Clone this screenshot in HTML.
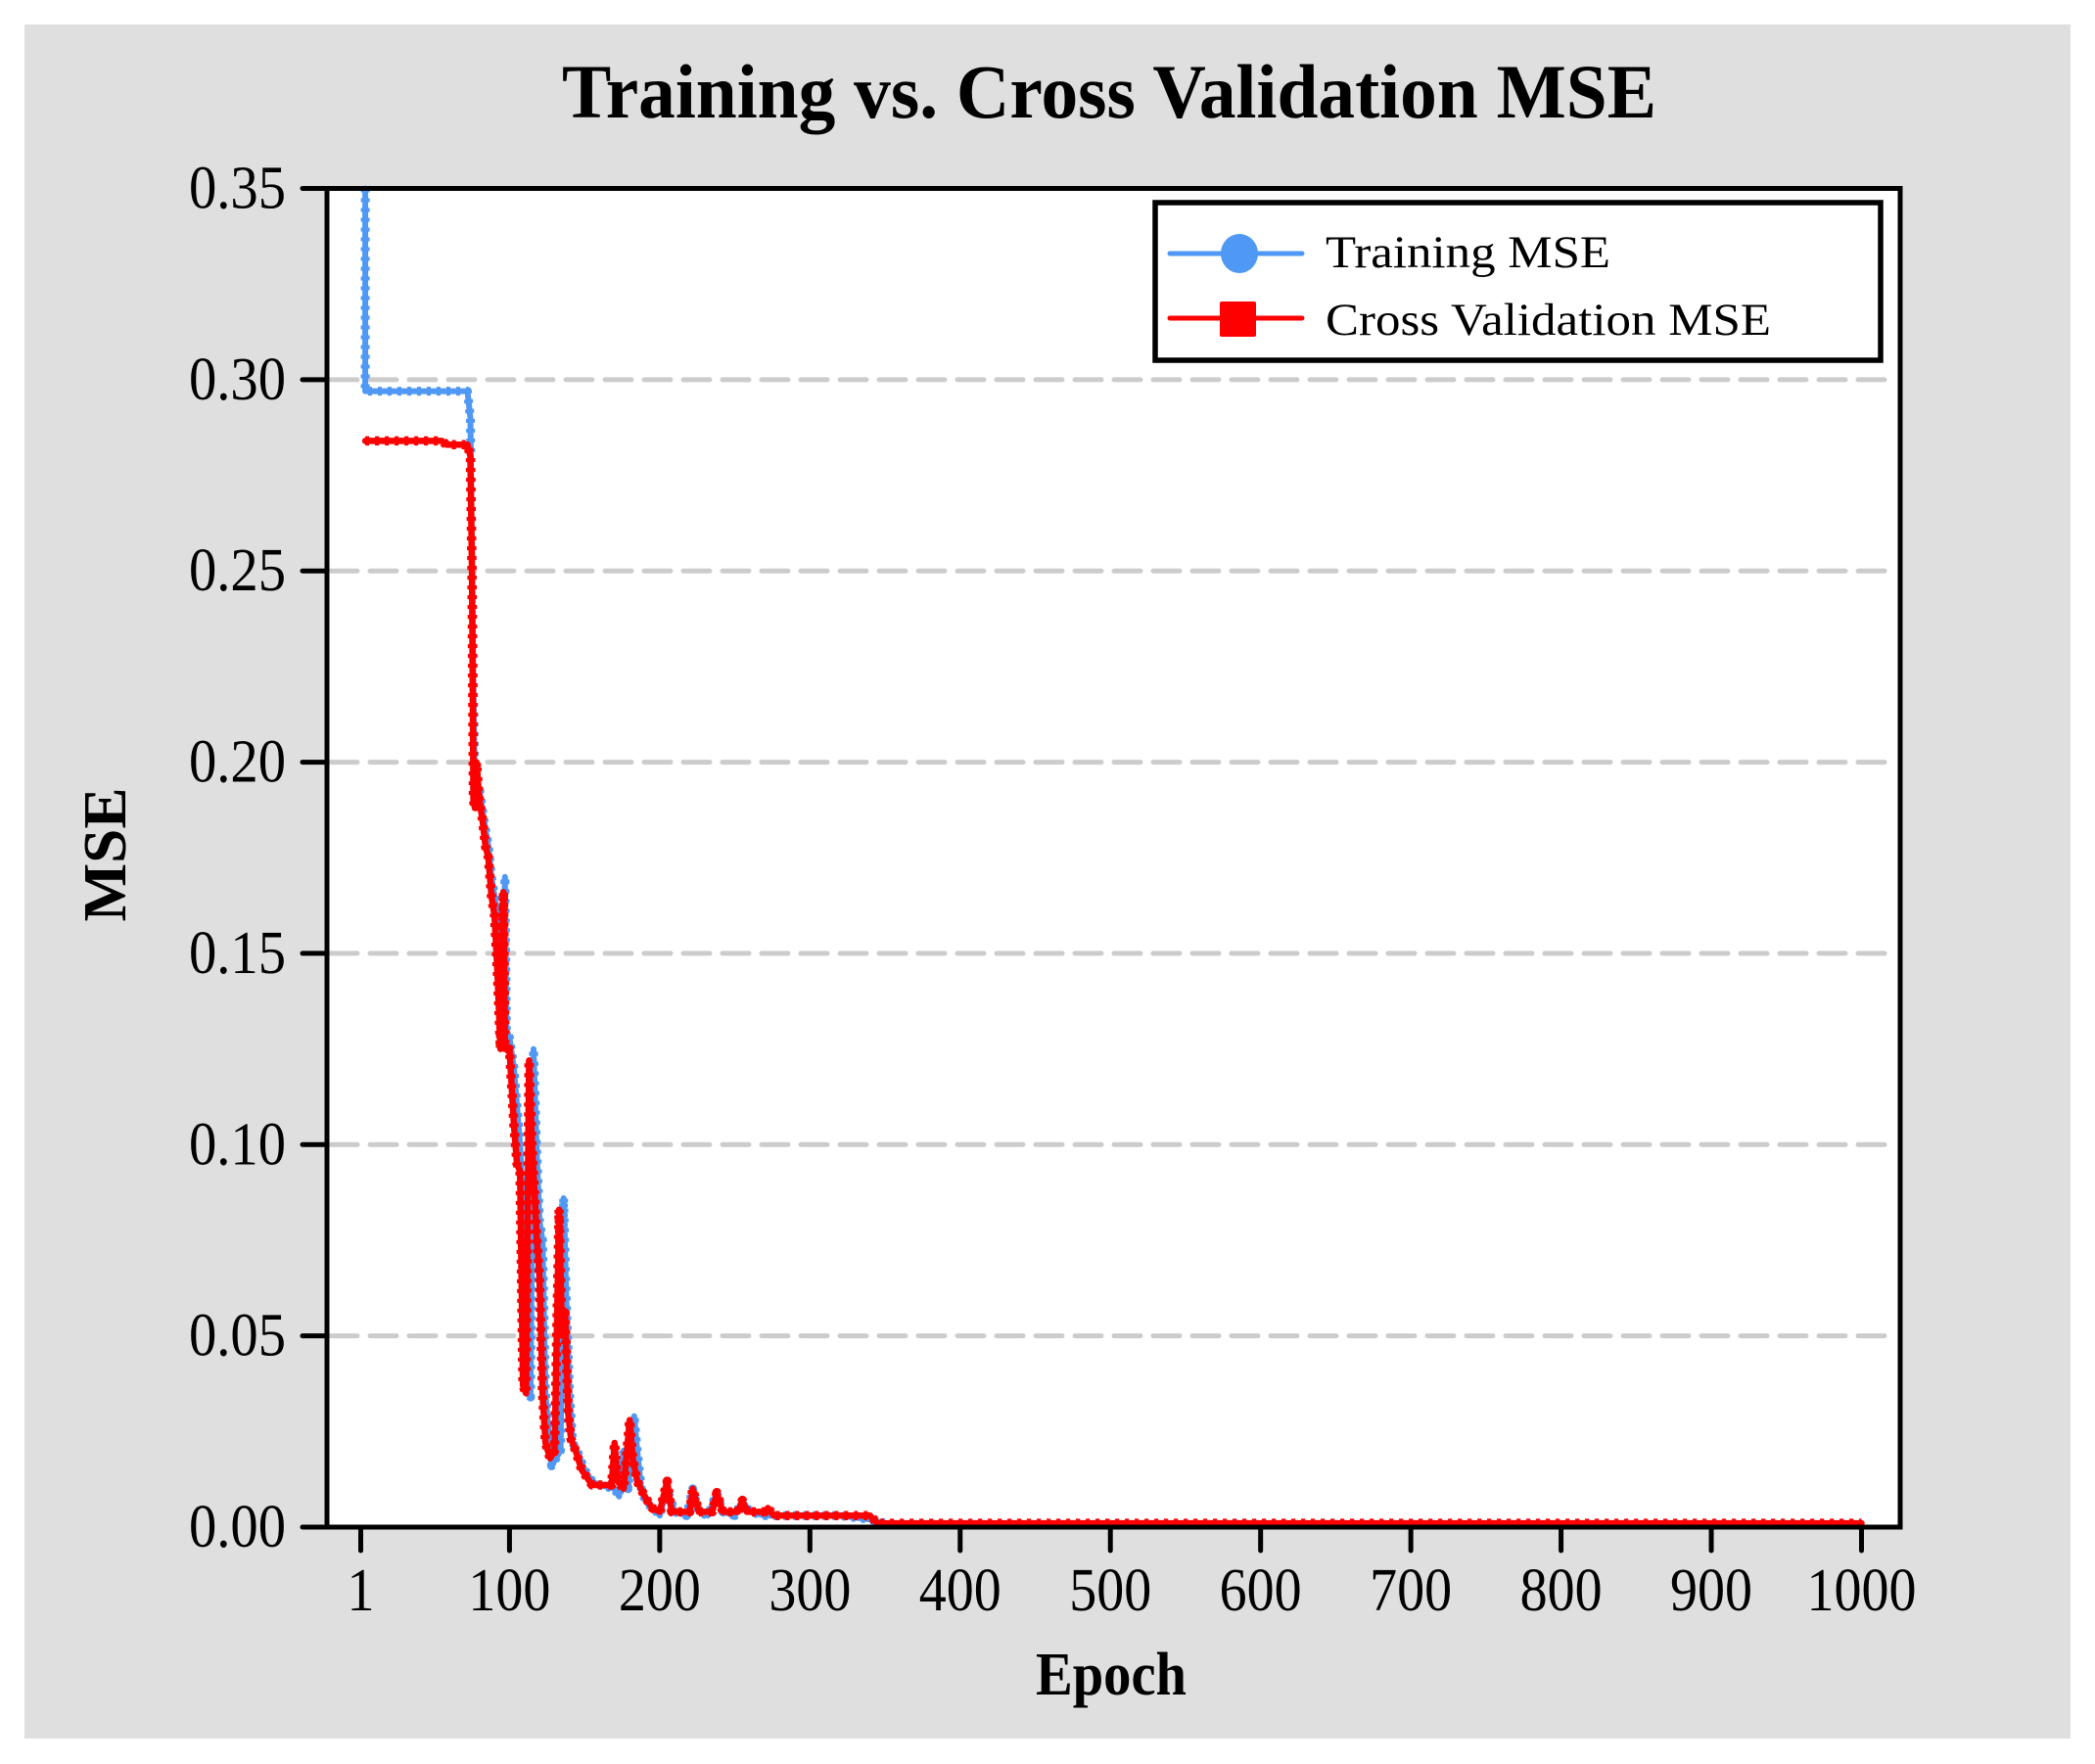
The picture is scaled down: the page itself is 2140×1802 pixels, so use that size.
<!DOCTYPE html>
<html><head><meta charset="utf-8"><style>
html,body{margin:0;padding:0;background:#fff;}
svg{display:block;}
text{font-family:"Liberation Serif",serif;fill:#000;}
</style></head><body>
<svg id="chart" width="2140" height="1802" viewBox="0 0 2140 1802" xmlns="http://www.w3.org/2000/svg">
<rect x="25" y="25" width="2090" height="1751" fill="#dfdfdf"/>
<rect x="334" y="192" width="1607" height="1368" fill="#fff"/>
<g id="grid"></g>
<g id="series"></g>
<g id="axes"></g>
<text x="1133" y="120" text-anchor="middle" font-size="78" font-weight="bold" textLength="1118" lengthAdjust="spacingAndGlyphs">Training vs. Cross Validation MSE</text>
<text x="1135" y="1731" text-anchor="middle" font-size="62" font-weight="bold" textLength="154" lengthAdjust="spacingAndGlyphs">Epoch</text>
<text transform="translate(128,873) rotate(-90)" text-anchor="middle" font-size="62" font-weight="bold" textLength="137" lengthAdjust="spacingAndGlyphs">MSE</text>
<g>
<rect x="1180" y="207" width="741" height="161" fill="#fff" stroke="#000" stroke-width="5.5"/>
<g>
<line x1="1195" y1="259" x2="1330" y2="259" stroke="#4f98f3" stroke-width="5" stroke-linecap="round"/>
<ellipse cx="1266" cy="259" rx="19" ry="20" fill="#4f98f3"/>
<text x="1354" y="273" font-size="47" textLength="291" lengthAdjust="spacingAndGlyphs">Training MSE</text>
</g>
<g>
<line x1="1195" y1="325" x2="1330" y2="325" stroke="#ff0000" stroke-width="5" stroke-linecap="round"/>
<rect x="1246" y="308" width="37" height="36" rx="2" fill="#ff0000"/>
<text x="1354" y="342" font-size="47" textLength="455" lengthAdjust="spacingAndGlyphs">Cross Validation MSE</text>
</g>
</g>
</svg>
<script>
const xTicks = [1,100,200,300,400,500,600,700,800,900,1000];
const yTicks = [0,0.05,0.10,0.15,0.20,0.25,0.30,0.35];
const yTickLabels = ["0.00","0.05","0.10","0.15","0.20","0.25","0.30","0.35"];
const trainEpochs = [4,4,8,72,74,75,76,77,80,83,86,88,90,92,94,96,97,98,100,103,105,107,109,111,112,114,116,118,120,122,124,126,128,131,134,136,138,140,142,145,150,155,160,170,173,176,179,183,185,188,192,196,200,205,210,218,222,226,232,238,242,250,255,260,270,280,320,340,350,1000];
const trainMSE = [0.35,0.297,0.297,0.297,0.29,0.256,0.22,0.195,0.193,0.185,0.178,0.17,0.165,0.16,0.15,0.152,0.17,0.13,0.128,0.12,0.11,0.1,0.085,0.062,0.035,0.034,0.125,0.1,0.08,0.075,0.035,0.025,0.016,0.018,0.02,0.086,0.057,0.035,0.022,0.02,0.015,0.012,0.011,0.01,0.008,0.02,0.01,0.029,0.02,0.009,0.006,0.005,0.003,0.01,0.004,0.003,0.01,0.004,0.003,0.009,0.004,0.003,0.007,0.004,0.003,0.003,0.003,0.002,0.001,0.001];
const cvEpochs = [4,55,58,72,74,75,76,77,78,80,82,84,86,88,90,92,94,96,97,100,103,105,107,109,111,113,115,117,118,120,122,124,127,130,133,135,137,139,141,144,148,155,168,170,172,176,180,182,185,190,195,200,205,208,220,222,226,235,238,242,252,255,258,270,272,276,320,340,345,1000];
const cvMSE = [0.284,0.284,0.283,0.283,0.28,0.25,0.19,0.188,0.2,0.19,0.185,0.178,0.175,0.165,0.16,0.145,0.125,0.166,0.125,0.125,0.105,0.095,0.093,0.037,0.035,0.122,0.1,0.085,0.077,0.065,0.035,0.022,0.018,0.02,0.083,0.05,0.056,0.03,0.023,0.02,0.015,0.011,0.011,0.022,0.012,0.01,0.028,0.018,0.012,0.008,0.005,0.004,0.012,0.004,0.004,0.01,0.004,0.004,0.009,0.004,0.004,0.007,0.004,0.004,0.005,0.003,0.003,0.003,0.001,0.001];

const NS = "http://www.w3.org/2000/svg";
const X0 = 368.5, X1 = 1901.5, YB = 1560, YT = 192.5;
function xScale(e){ return X0 + (e-1)*(X1-X0)/999; }
function yScale(v){ return YB - v/0.35*(YB-YT); }
function mk(tag, attrs, parent){ const el=document.createElementNS(NS,tag); for(const k in attrs) el.setAttribute(k,attrs[k]); parent.appendChild(el); return el; }

const grid = document.getElementById('grid');
yTicks.forEach((v,i)=>{
  if(v===0 || v===0.35) return;
  const l = mk('line',{x1:338,x2:1937,y1:yScale(v),y2:yScale(v),stroke:'#cccccc','stroke-width':5,'stroke-dasharray':'27 13','stroke-linecap':'round'},grid);
  
  
});

const series = document.getElementById('series');
function drawSeries(ex, vals, color, w, name){
  const pts = ex.map((e,i)=>xScale(e).toFixed(1)+','+yScale(vals[i]).toFixed(1)).join(' ');
  const p = mk('polyline',{points:pts,fill:'none',stroke:color,'stroke-width':w,'stroke-linejoin':'round','stroke-linecap':'round'},series);
  
  
  // marker dashes along the series
  const m = mk('polyline',{points:pts,fill:'none',stroke:color,'stroke-width':w+3,'stroke-dasharray':'4 6','stroke-linejoin':'round'},series);
  
  
}
drawSeries(trainEpochs, trainMSE, '#4f98f3', 6, 'training-mse-line');
drawSeries(cvEpochs, cvMSE, '#ff0000', 6.5, 'cv-mse-line');

const axes = document.getElementById('axes');
const frame = mk('rect',{x:334,y:192.5,width:1607,height:1367.5,fill:'none',stroke:'#000','stroke-width':5},axes);


yTicks.forEach((v,i)=>{
  const t = mk('line',{x1:309,x2:334,y1:yScale(v),y2:yScale(v),stroke:'#000','stroke-width':5,'stroke-linecap':'round'},axes);
  
  
  const tx = mk('text',{x:292,y:yScale(v)+20,'text-anchor':'end','font-size':62,textLength:99,lengthAdjust:'spacingAndGlyphs'},axes);
  tx.textContent = yTickLabels[i];
  
  
});
xTicks.forEach((e,i)=>{
  const t = mk('line',{x1:xScale(e),x2:xScale(e),y1:1560,y2:1584,stroke:'#000','stroke-width':5,'stroke-linecap':'round'},axes);
  
  
  const s = String(e);
  const tx = mk('text',{x:xScale(e),y:1645,'text-anchor':'middle','font-size':62,textLength:s.length*28,lengthAdjust:'spacingAndGlyphs'},axes);
  tx.textContent = s;
  
  
});
</script>
</body></html>
